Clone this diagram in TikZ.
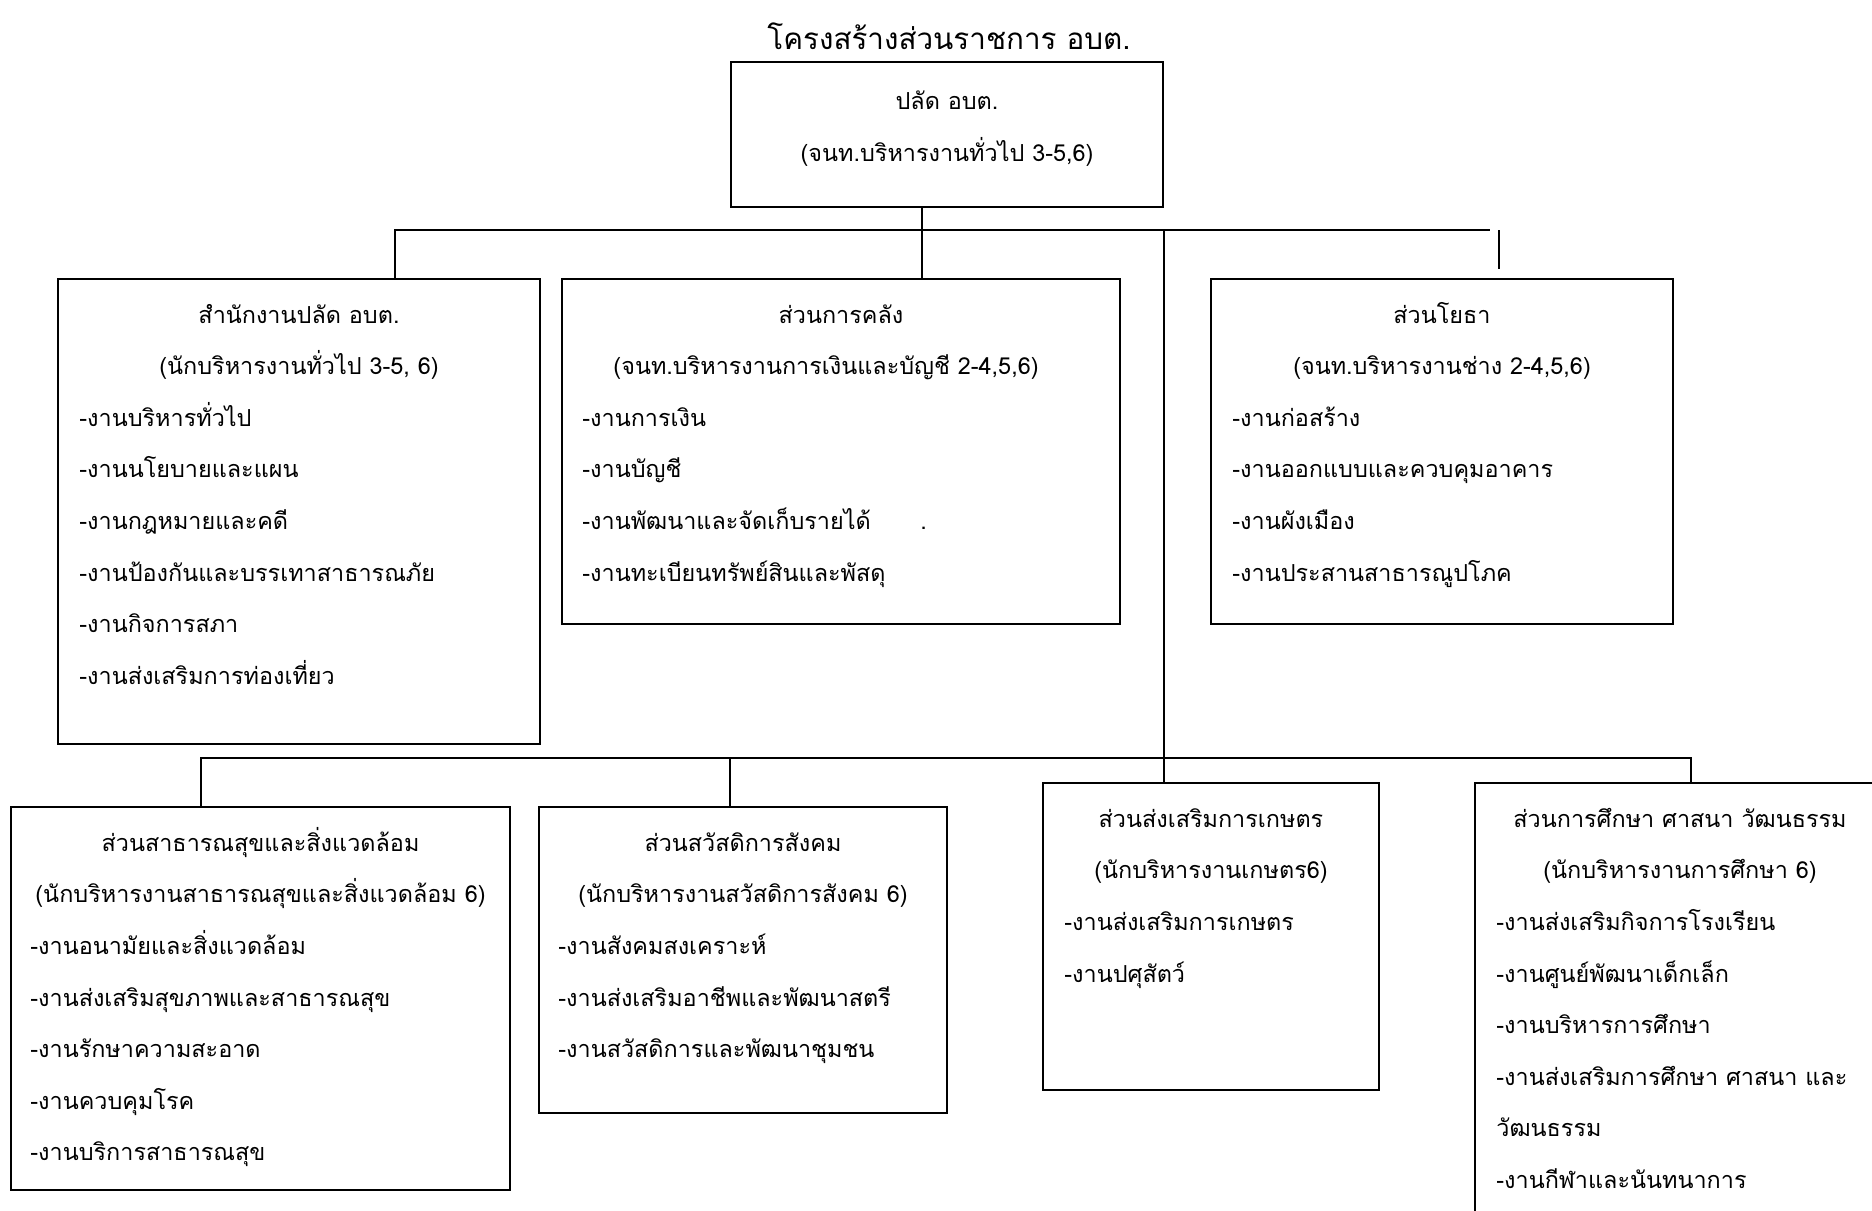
\documentclass[tikz,border=0pt]{standalone}
\usepackage{fontspec}
\setmainfont[Script=Thai]{Loma}

\begin{document}
\begin{tikzpicture}[x=0.5pt, y=-0.5pt]
	\tikzstyle{box}=[draw=black, line width=1pt, rectangle, inner sep=0pt];
	\tikzstyle{txt}=[inner sep=0pt, yshift=-1.5pt, font=\fontsize{11.7}{14}\selectfont];
	\tikzstyle{head}=[txt, anchor=mid];
	\tikzstyle{item}=[txt, anchor=mid west];
	\tikzstyle{link}=[line width=1pt];

	\clip (0,0) rectangle (1872,1210);

	\node[inner sep=0pt, font=\fontsize{14.8}{18}\selectfont] (title) at (949,36) {โครงสร้างส่วนราชการ อบต.};

	% boxes
	\node[box, minimum width=216pt, minimum height=72.5pt] (top) at (947,134.5) {};
	\node[box, minimum width=241pt, minimum height=232.5pt] (b1) at (299,511.5) {};
	\node[box, minimum width=279pt, minimum height=172.5pt] (b2) at (841,451.5) {};
	\node[box, minimum width=231pt, minimum height=172.5pt] (b3) at (1442,451.5) {};
	\node[box, minimum width=249.5pt, minimum height=191.5pt] (b5) at (260.5,998.5) {};
	\node[box, minimum width=204pt, minimum height=153pt] (b6) at (743,960) {};
	\node[box, minimum width=168pt, minimum height=153.5pt] (b7) at (1211,936.5) {};
	\node[box, minimum width=205pt, minimum height=233.5pt] (b8) at (1680,1016.5) {};

	% top
	\node[head] (n0a) at (947,101) {ปลัด อบต.};
	\node[head] (n0b) at (947,153) {(จนท.บริหารงานทั่วไป 3-5,6)};

	% b1
	\node[head] (n1a) at (299,315) {สำนักงานปลัด อบต.};
	\node[head] (n1b) at (299,366.6) {(นักบริหารงานทั่วไป 3-5, 6)};
	\node[item] (n1c) at (79,418.2) {-งานบริหารทั่วไป};
	\node[item] (n1d) at (79,469.8) {-งานนโยบายและแผน};
	\node[item] (n1e) at (79,521.4) {-งานกฎหมายและคดี};
	\node[item] (n1f) at (79,573) {-งานป้องกันและบรรเทาสาธารณภัย};
	\node[item] (n1g) at (79,624.6) {-งานกิจการสภา};
	\node[item] (n1h) at (79,676.2) {-งานส่งเสริมการท่องเที่ยว};

	% b2
	\node[head] (n2a) at (841,315) {ส่วนการคลัง};
	\node[head] (n2b) at (826,366.6) {(จนท.บริหารงานการเงินและบัญชี 2-4,5,6)};
	\node[item] (n2c) at (582,418.2) {-งานการเงิน};
	\node[item] (n2d) at (582,469.8) {-งานบัญชี};
	\node[item] (n2e) at (582,521.4) {-งานพัฒนาและจัดเก็บรายได้};
	\node[item] (n2g) at (920,521.4) {.};
	\node[item] (n2f) at (582,573) {-งานทะเบียนทรัพย์สินและพัสดุ};

	% b3
	\node[head] (n3a) at (1442,315) {ส่วนโยธา};
	\node[head] (n3b) at (1442,366.6) {(จนท.บริหารงานช่าง 2-4,5,6)};
	\node[item] (n3c) at (1232,418.2) {-งานก่อสร้าง};
	\node[item] (n3d) at (1232,469.8) {-งานออกแบบและควบคุมอาคาร};
	\node[item] (n3e) at (1232,521.4) {-งานผังเมือง};
	\node[item] (n3f) at (1232,573) {-งานประสานสาธารณูปโภค};

	% b5
	\node[head] (n5a) at (260.5,843) {ส่วนสาธารณสุขและสิ่งแวดล้อม};
	\node[head] (n5b) at (260.5,894.6) {(นักบริหารงานสาธารณสุขและสิ่งแวดล้อม 6)};
	\node[item] (n5c) at (30,946.2) {-งานอนามัยและสิ่งแวดล้อม};
	\node[item] (n5d) at (30,997.8) {-งานส่งเสริมสุขภาพและสาธารณสุข};
	\node[item] (n5e) at (30,1049.4) {-งานรักษาความสะอาด};
	\node[item] (n5f) at (30,1101) {-งานควบคุมโรค};
	\node[item] (n5g) at (30,1152.6) {-งานบริการสาธารณสุข};

	% b6
	\node[head] (n6a) at (743,843) {ส่วนสวัสดิการสังคม};
	\node[head] (n6b) at (743,894.6) {(นักบริหารงานสวัสดิการสังคม 6)};
	\node[item] (n6c) at (558,946.2) {-งานสังคมสงเคราะห์};
	\node[item] (n6d) at (558,997.8) {-งานส่งเสริมอาชีพและพัฒนาสตรี};
	\node[item] (n6e) at (558,1049.4) {-งานสวัสดิการและพัฒนาชุมชน};

	% b7
	\node[head] (n7a) at (1211,819) {ส่วนส่งเสริมการเกษตร};
	\node[head] (n7b) at (1211,870.6) {(นักบริหารงานเกษตร6)};
	\node[item] (n7c) at (1064,922.2) {-งานส่งเสริมการเกษตร};
	\node[item] (n7d) at (1064,973.8) {-งานปศุสัตว์};

	% b8
	\node[head] (n8a) at (1680,819) {ส่วนการศึกษา ศาสนา วัฒนธรรม};
	\node[head] (n8b) at (1680,870.6) {(นักบริหารงานการศึกษา 6)};
	\node[item] (n8c) at (1496,922.2) {-งานส่งเสริมกิจการโรงเรียน};
	\node[item] (n8d) at (1496,973.8) {-งานศูนย์พัฒนาเด็กเล็ก};
	\node[item] (n8e) at (1496,1025.4) {-งานบริหารการศึกษา};
	\node[item] (n8f) at (1496,1077) {-งานส่งเสริมการศึกษา ศาสนา และ};
	\node[item] (n8g) at (1496,1128.6) {วัฒนธรรม};
	\node[item] (n8h) at (1496,1180.2) {-งานกีฬาและนันทนาการ};

	% connectors
	\coordinate (hl) at (395,230);
	\coordinate (hr) at (1490,230);
	\coordinate (j0) at (922,230);
	\coordinate (j1) at (1164,230);
	\coordinate (s1) at (1499,230);
	\coordinate (s2) at (1499,269);
	\coordinate (ll) at (201,758);
	\coordinate (lr) at (1691,758);
	\coordinate (j2) at (730,758);

	\draw[link] (top.south -| j0) -- (b2.north -| j0);
	\draw[link] (b1.north -| hl) -- (hl) -- (hr);
	\draw[link] (j1) -- (b7.north -| j1);
	\draw[link] (s1) -- (s2);
	\draw[link] (b5.north -| ll) -- (ll) -- (lr) -- (b8.north -| lr);
	\draw[link] (j2) -- (b6.north -| j2);

\end{tikzpicture}
\end{document}
